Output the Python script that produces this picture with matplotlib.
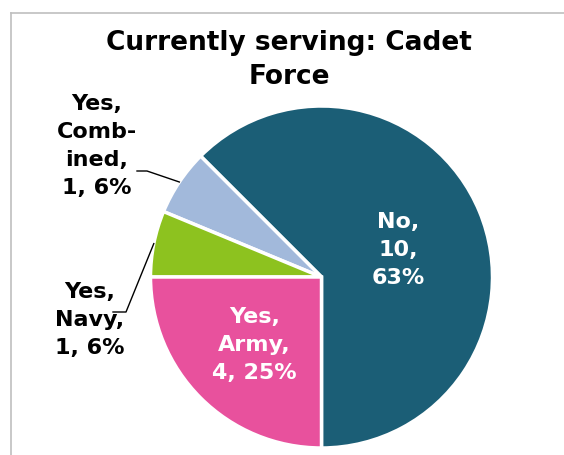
import numpy as np
import matplotlib
matplotlib.use('Agg')
import matplotlib.pyplot as plt
from matplotlib.lines import Line2D

# data
labels = ['No', 'Yes, Combined', 'Yes, Navy', 'Yes, Army']
counts = [10, 1, 1, 4]
percents = ['63%', '6%', '6%', '25%']
colors = ['#1B5E76', '#A2B9DB', '#8DC21F', '#E8519D']
title = 'Currently serving: Cadet\nForce'

label_texts = ['No,\n10,\n63%', 'Yes,\nComb-\nined,\n1, 6%', 'Yes,\nNavy,\n1, 6%', 'Yes,\nArmy,\n4, 25%']

W, H = 564, 455
fig = plt.figure(figsize=(W / 100, H / 100), dpi=100)
ax = fig.add_axes([0, 0, 1, 1])

cx, cy, r = 321.5, H - 277, 171
wedges, _ = ax.pie(counts, colors=colors, startangle=-90, counterclock=True,
                   center=(cx, cy), radius=r, frame=True,
                   wedgeprops=dict(edgecolor='white', linewidth=2.5))
ax.set_xlim(0, W)
ax.set_ylim(0, H)
ax.set_aspect('equal')
ax.axis('off')

# label placement (angle offset from wedge middle, radial distance)
place = [(-3.1, 0.475, 'white'), (3.5, 1.52, 'black'), (21.75, 1.377, 'black'), (0.4, 0.56, 'white')]
for w, txt, (da, dist, col) in zip(wedges, label_texts, place):
    mid = np.deg2rad((w.theta1 + w.theta2) / 2 + da)
    ax.text(cx + dist * r * np.cos(mid), cy + dist * r * np.sin(mid), txt,
            ha='center', va='center', color=col, fontsize=16, fontweight='bold',
            linespacing=1.5)

# leader lines for outside labels
for w, (ex, ey, ln) in zip(wedges[1:3], [(147, 171, 10), (126, 312, 13)]):
    mid = np.deg2rad((w.theta1 + w.theta2) / 2)
    px, py = cx + r * np.cos(mid), cy + r * np.sin(mid)
    ax.plot([px, ex, ex - ln], [py, H - ey, H - ey], color='black', lw=1)

fig.text(289 / W, 1 - 60 / H, title, ha='center', va='center', fontsize=19,
         fontweight='bold', linespacing=1.42)

# chart border (cropped)
fig.add_artist(Line2D([11 / W, 11 / W], [0, 1 - 13 / H], color='#BFBFBF', lw=1.2))
fig.add_artist(Line2D([11 / W, 1], [1 - 13 / H, 1 - 13 / H], color='#BFBFBF', lw=1.2))

fig.savefig('out.png', dpi=100, facecolor='white')
